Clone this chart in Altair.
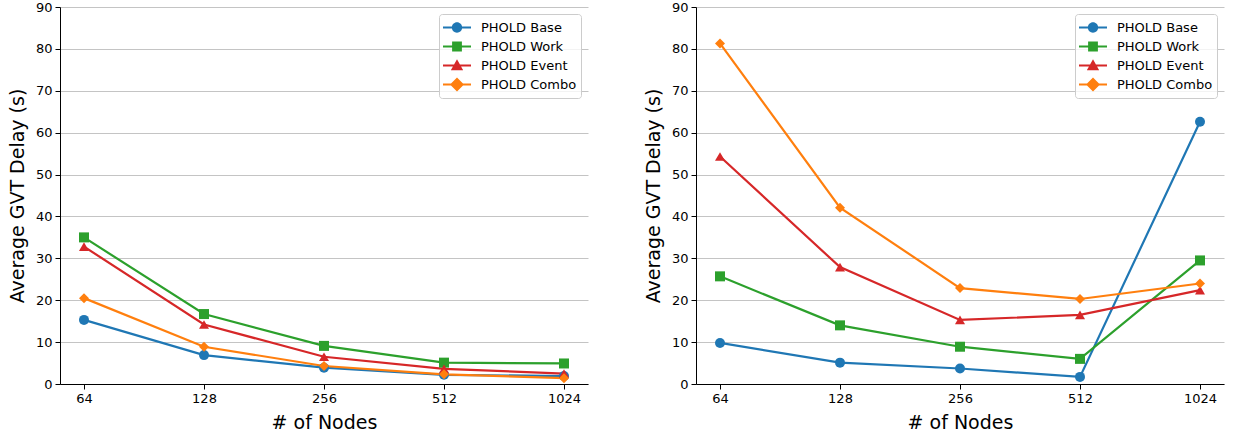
import altair as alt
import pandas as pd

nodes = ["64", "128", "256", "512", "1024"]
series = ["PHOLD Base", "PHOLD Work", "PHOLD Event", "PHOLD Combo"]
colors = ["#1f77b4", "#2ca02c", "#d62728", "#ff7f0e"]

left_base = [15.3, 6.9, 3.9, 2.2, 1.9]
left_work = [35.0, 16.7, 9.1, 5.1, 4.9]
left_event = [32.8, 14.2, 6.5, 3.6, 2.5]
left_combo = [20.5, 8.9, 4.3, 2.3, 1.4]

right_base = [9.8, 5.1, 3.7, 1.7, 62.6]
right_work = [25.7, 14.0, 8.9, 6.0, 29.5]
right_event = [54.3, 27.9, 15.3, 16.5, 22.4]
right_combo = [81.3, 42.1, 22.9, 20.3, 24.0]

y_ticks = list(range(0, 91, 10))

plot_shapes = ["circle", "square", "triangle-up", "diamond"]
# legend glyphs: a short line with the marker on it
line_part = "M-1,-0.08H1V0.08H-1Z"
legend_shapes = [
    line_part + "M-0.37,0A0.37,0.37 0 1,1 0.37,0A0.37,0.37 0 1,1 -0.37,0Z",
    line_part + "M-0.35,-0.35H0.35V0.35H-0.35Z",
    line_part + "M0,-0.44L0.44,0.34L-0.44,0.34Z",
    line_part + "M0,-0.5L0.5,0L0,0.5L-0.5,0Z",
]


def make_df(vals):
    rows = []
    for s, v in zip(series, vals):
        for n, y in zip(nodes, v):
            rows.append({"nodes": n, "series": s, "value": y})
    return pd.DataFrame(rows)


def panel(df):
    x = alt.X("nodes:N", sort=nodes,
              scale=alt.Scale(type="point", padding=0.2),
              axis=alt.Axis(title="# of Nodes", labelAngle=0, grid=False))
    y = alt.Y("value:Q", scale=alt.Scale(domain=[0, 90], nice=False),
              axis=alt.Axis(title="Average GVT Delay (s)", values=y_ticks, grid=True))
    color_nl = alt.Color("series:N", sort=series,
                         scale=alt.Scale(domain=series, range=colors), legend=None)
    lines = alt.Chart(df).mark_line(strokeWidth=2.2).encode(
        x=x, y=y, color=color_nl, detail="series:N")
    pts = alt.Chart(df).mark_point(filled=True, opacity=1).encode(
        x=x, y=y, color=color_nl,
        shape=alt.Shape("series:N", sort=series,
                        scale=alt.Scale(domain=series, range=plot_shapes), legend=None),
        size=alt.Size("series:N", sort=series,
                      scale=alt.Scale(domain=series, range=[100, 100, 200, 320]), legend=None),
    )
    leg = alt.Legend(title=None, orient="top-right", offset=7, symbolSize=784,
                     symbolOpacity=1, symbolStrokeWidth=0, clipHeight=19,
                     rowPadding=0, labelOffset=10, padding=4,
                     strokeColor="#cccccc", cornerRadius=3,
                     fillColor="rgba(255,255,255,0.8)", labelFontSize=13,
                     labelFont="DejaVu Sans", labelColor="black")
    legend_layer = alt.Chart(df).mark_point(filled=True, opacity=0, size=784).encode(
        x=x, y=y,
        color=alt.Color("series:N", sort=series,
                        scale=alt.Scale(domain=series, range=colors), legend=leg),
        shape=alt.Shape("series:N", sort=series,
                        scale=alt.Scale(domain=series, range=legend_shapes), legend=leg),
    )
    return alt.layer(lines, pts, legend_layer).resolve_scale(
        color="independent", shape="independent", size="independent"
    ).resolve_legend(color="independent", shape="independent", size="independent").properties(
        width=528, height=377)


left = panel(make_df([left_base, left_work, left_event, left_combo]))
right = panel(make_df([right_base, right_work, right_event, right_combo]))

chart = alt.hconcat(left, right, spacing=56).resolve_scale(
    color="independent", shape="independent", size="independent"
).resolve_legend(color="independent", shape="independent", size="independent").properties(
    padding={"left": 8, "top": 1, "right": 8, "bottom": 5}
).configure_view(stroke=None).configure_axis(
    labelFont="DejaVu Sans", labelFontSize=13, labelColor="black",
    titleFont="DejaVu Sans", titleFontSize=19, titleFontWeight="normal", titleColor="black",
    domainColor="black", domainWidth=1, tickColor="black", tickWidth=1, tickSize=5,
    labelPadding=3, gridColor="#c4c4c4", gridWidth=1, titlePadding=8
)

chart.save("out.html", embed_options={"renderer": "svg", "actions": False})
